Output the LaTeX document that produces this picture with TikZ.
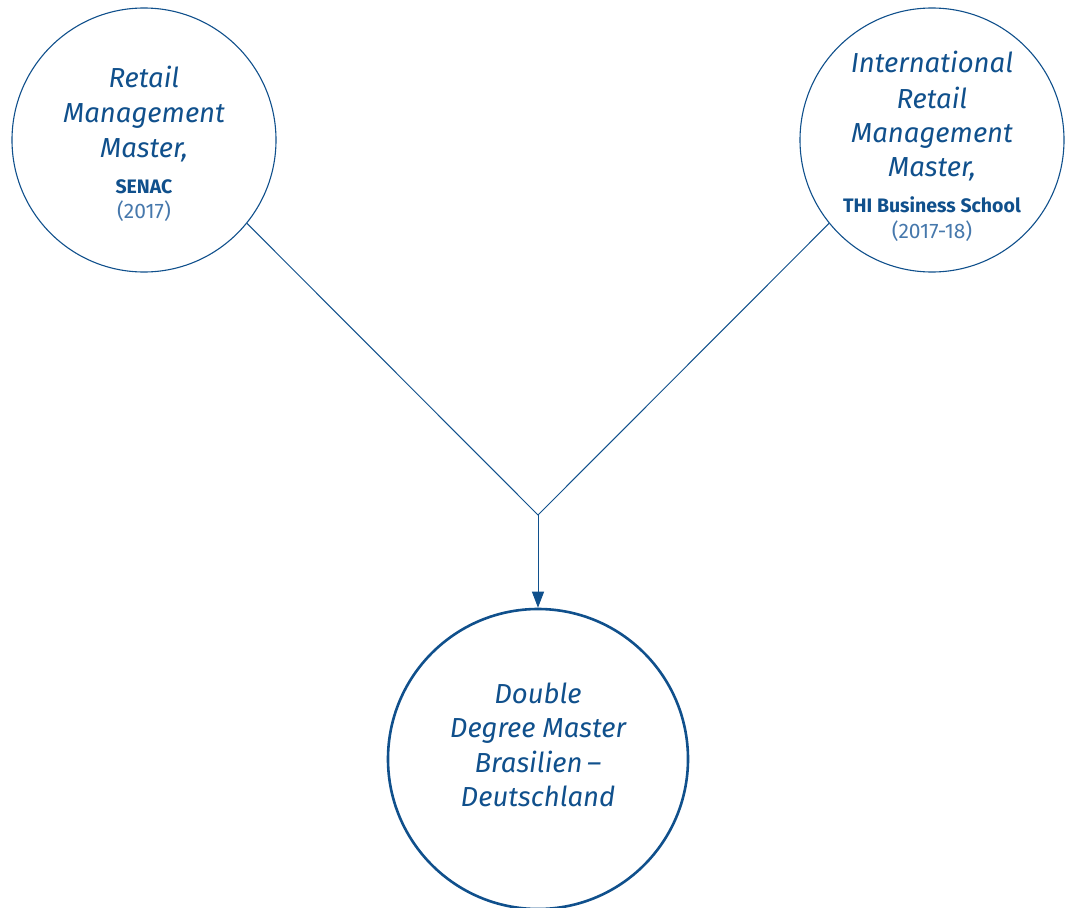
\documentclass[tikz,border=0pt]{standalone}
\usepackage{fontspec}
\setmainfont{Fira Sans}
\usetikzlibrary{arrows.meta}
\definecolor{mainblue}{RGB}{16,80,140}
\definecolor{lightblue}{RGB}{70,120,172}
\begin{document}
\begin{tikzpicture}[x=1pt,y=-1pt,
  title/.style={anchor=base, inner sep=0, text=mainblue, font=\fontsize{27.5}{30}\selectfont\itshape},
  inst/.style={anchor=base, inner sep=0, text=mainblue, font=\fontsize{19.5}{22}\selectfont\bfseries},
  year/.style={anchor=base, inner sep=0, text=lightblue, font=\fontsize{21}{22}\selectfont},
  ring/.style={circle, draw=mainblue, line width=1.1pt, inner sep=0, minimum size=264pt},
  bigring/.style={circle, draw=mainblue, line width=2.6pt, inner sep=0, minimum size=300pt},
  conn/.style={draw=mainblue, line width=1pt},
  arr/.style={conn, -{Triangle[length=16pt,width=12pt]}}
]
\useasboundingbox[fill=white] (0,0) rectangle (1070,907);

\node[ring] (L) at (144,140) {};
\node[ring] (R) at (932,140) {};
\node[bigring] (B) at (538,759) {};
\coordinate (J) at (538,515);

\draw[conn] (L.-39) -- (J) -- (R.-141);
\draw[arr] (J) -- (B.north);

% left text
\node[title] (l1) at (144,87) {Retail};
\node[title] (l2) at (144,122) {Management};
\node[title] (l3) at (144,157) {Master,};
\node[inst]  (l4) at (144,193) {SENAC};
\node[year]  (l5) at (144,218) {(2017)};

% right text
\node[title] (r1) at (932,73) {International};
\node[title] (r2) at (932,108) {Retail};
\node[title] (r3) at (932,142) {Management};
\node[title] (r4) at (932,176) {Master,};
\node[inst]  (r5) at (932,212) {THI Business School};
\node[year]  (r6) at (932,238) {(2017-18)};

% bottom text
\node[title] (b1) at (538,703) {Double};
\node[title] (b2) at (538,737) {Degree Master};
\node[title] (b3) at (538,772) {Brasilien\,--};
\node[title] (b4) at (538,806) {Deutschland};
\end{tikzpicture}
\end{document}
